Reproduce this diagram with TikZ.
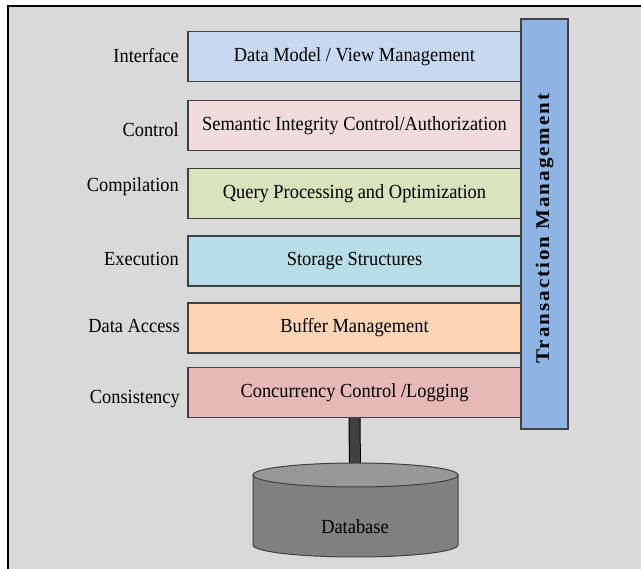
\documentclass[tikz,border=0pt]{standalone}
\usepackage{fontspec}
\setmainfont{Liberation Serif}
\usepackage{graphicx}
\definecolor{bg}{HTML}{D9D9D9}
\definecolor{edge}{HTML}{404040}
\definecolor{cA}{HTML}{C6D9F1}
\definecolor{cB}{HTML}{F2DCDB}
\definecolor{cC}{HTML}{D7E4BD}
\definecolor{cD}{HTML}{B7DEE8}
\definecolor{cE}{HTML}{FCD5B5}
\definecolor{cF}{HTML}{E6B9B8}
\definecolor{barblue}{HTML}{8EB4E3}
\definecolor{dbbody}{HTML}{808080}
\definecolor{dbend}{HTML}{989898}
\definecolor{stub}{HTML}{404040}
\newcommand\sqz[1]{\scalebox{0.92}[1]{#1}}
\tikzset{
  layer/.style={draw=edge, line width=1.3pt, minimum width=333pt, minimum height=50pt,
    inner sep=0pt, font=\fontsize{20}{24}\selectfont, text height=14pt, text depth=4.4pt},
  lvl/.style={anchor=base east, inner sep=0pt, font=\fontsize{20}{24}\selectfont},
  barbox/.style={draw=edge, line width=1.3pt, fill=barblue, inner sep=0pt},
  dbshape/.style={draw=edge, line width=1pt},
}
\begin{document}
\begin{tikzpicture}[x=1pt,y=-1pt]
\useasboundingbox (0,0) rectangle (641,569);
\fill[white] (0,0) rectangle (641,569);
\fill[bg] (8,6) rectangle (641,569);
\draw[line width=2pt, black] (8,569) -- (8,6) -- (641,6);

% layers
\node[layer, fill=cA] (l1) at (354.5,56.5) {\sqz{Data Model / View Management}};
\node[layer, fill=cB] (l2) at (354.5,125.5) {\sqz{Semantic Integrity Control/Authorization}};
\node[layer, fill=cC] (l3) at (354.5,193.5) {\sqz{Query Processing and Optimization}};
\node[layer, fill=cD] (l4) at (354.5,261) {\sqz{Storage Structures}};
\node[layer, fill=cE] (l5) at (354.5,328) {\sqz{Buffer Management}};
\node[layer, fill=cF] (l6) at (354.5,392.5) {\sqz{Concurrency Control /Logging}};

% level labels
\node[lvl] (t1) at (179,63) {\sqz{Interface}};
\node[lvl] (t2) at (179,137) {\sqz{Control}};
\node[lvl] (t3) at (179,192) {\sqz{Compilation}};
\node[lvl] (t4) at (179,266) {\sqz{Execution}};
\node[lvl] (t5) at (180,333) {\sqz{Data Access}};
\node[lvl] (t6) at (180,404) {\sqz{Consistency}};

% transaction management bar
\node[barbox, rotate=90, minimum width=410pt, minimum height=47pt,
  font=\bfseries\fontsize{21}{24}\selectfont\addfontfeature{LetterSpace=9.5}] (tm) at (544.5,224)
  {\scalebox{1}[0.92]{Transaction Management}\hspace*{9pt}};

% connector to database
\coordinate (dbtop) at (355,470);
\draw[line width=1pt, draw=black, double=stub, double distance=10pt] (l6.south) -- (dbtop);

% database cylinder
\filldraw[dbshape, fill=dbbody] (253,475) -- (253,545)
  arc[start angle=180, end angle=0, x radius=102.5, y radius=12] -- (458,475) -- cycle;
\filldraw[dbshape, fill=dbend] (355.5,475) ellipse[x radius=102.5, y radius=12];
\node[inner sep=0pt, anchor=base, font=\fontsize{20}{24}\selectfont] (db) at (355,534) {\sqz{Database}};
\end{tikzpicture}
\end{document}
